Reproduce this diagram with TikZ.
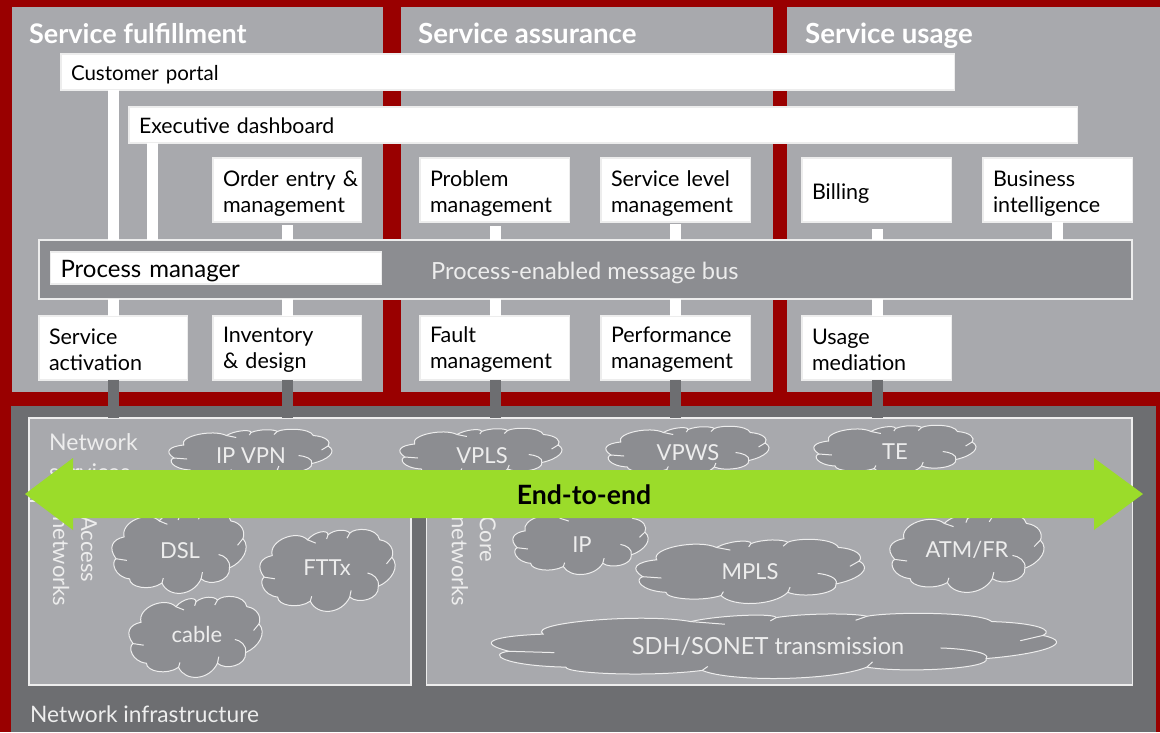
\documentclass[tikz,border=0pt]{standalone}
\usepackage{fontspec}
\setmainfont{Lato}
\definecolor{bgred}{HTML}{990000}
\definecolor{panelgray}{HTML}{A8A9AD}
\definecolor{darkgray}{HTML}{6D6E71}
\definecolor{busgray}{HTML}{8C8D91}
\definecolor{lime}{HTML}{9BDC2A}
\definecolor{softwhite}{HTML}{EDEDED}
\newcommand{\tx}{\rule{0pt}{23pt}}
\newcommand{\ty}{\rule{0pt}{19pt}}
\tikzset{
  panel/.style={fill=panelgray,draw=none},
  frame/.style={fill=panelgray,draw=softwhite,line width=1.6pt},
  wbox/.style={draw=softwhite,fill=white,line width=1.2pt,anchor=north west,align=left,inner xsep=10pt,inner ysep=0pt,outer sep=0pt,font=\fontsize{21.5}{26}\selectfont,text=black},
  wconn/.style={draw=white,line width=11pt},
  dconn/.style={draw=darkgray,line width=11pt},
  title/.style={text=white,anchor=base west,inner sep=0pt,font=\fontsize{27.7}{30}\selectfont\bfseries},
  lbl/.style={text=softwhite,anchor=west,inner sep=0pt,align=left,font=\fontsize{22}{28}\selectfont},
  cloudlbl/.style={text=softwhite,inner sep=0pt,font=\fontsize{22}{26}\selectfont},
  cloudline/.style={draw=softwhite,line width=1pt},
}
\newcommand{\cloudat}[7]{%
  \begin{scope}[shift={(#2,#3)},xscale=(#4-#2)/100,yscale=(#5-#3)/100]
    \path[fill=busgray,cloudline] (9,32)
      .. controls (6,14) and (27,0) .. (35,13)
      .. controls (40,3) and (50,0) .. (50,7)
      .. controls (55,0) and (64,0) .. (66,5)
      .. controls (70,-2) and (86,-2) .. (88,13)
      .. controls (96,15) and (99,26) .. (97,34)
      .. controls (103,45) and (97,62) .. (87,69)
      .. controls (88,85) and (72,91) .. (66,82)
      .. controls (60,103) and (42,105) .. (37,87)
      .. controls (28,97) and (13,92) .. (13,82)
      .. controls (2,80) and (-1,62) .. (3,58)
      .. controls (-3,45) and (0,35) .. (9,32) -- cycle;
    \path[cloudline] (87,69) .. controls (88,60) and (83,54) .. (79,53);
    \path[cloudline] (97,34) -- (93,42);
    \path[cloudline] (3,58) -- (11,60);
    \path[cloudline] (35,13) -- (41,17);
    \path[cloudline] (50,7) -- (49,12);
    \path[cloudline] (66,5) -- (64,11);
    \path[cloudline] (66,82) -- (67,74);
    \path[cloudline] (37,87) -- (38,81);
  \end{scope}
  \node[cloudlbl] (#1) at (#6) {#7};
}
\begin{document}
\begin{tikzpicture}[x=1pt,y=-1pt]
\useasboundingbox (0,0) rectangle (1160,732);
\fill[bgred] (0,0) rectangle (1160,732);
% panels
\path[panel] (12,7) rectangle (383,392);
\path[panel] (401,7) rectangle (773,392);
\path[panel] (787,7) rectangle (1160,392);
\fill[darkgray] (11,406) rectangle (1156,732);
\node[title,font=\fontsize{27}{30}\selectfont\bfseries] (t1) at (29,43) {Service fulfillment};
\node[title] (t2) at (418,43) {Service assurance};
\node[title] (t3) at (805,43) {Service usage};
% x positions of the connecting strips
\coordinate (xa) at (113.5,0);
\coordinate (xb) at (152.5,0);
\coordinate (xc) at (287.5,0);
\coordinate (xd) at (495.5,0);
\coordinate (xe) at (675.5,0);
\coordinate (xf) at (877.5,0);
\coordinate (xg) at (1057.5,0);
% boxes
\node[wbox,minimum height=36pt,text width=873.5pt,font=\fontsize{20.5}{26}\selectfont] (portal) at (61,54) {\rule{0pt}{21pt}Customer portal};
\node[wbox,minimum height=36pt,text width=928.5pt,font=\fontsize{21.3}{26}\selectfont] (exec) at (129,107) {\rule{0pt}{18pt}Executive dashboard};
\node[wbox,minimum height=64pt,text width=128.5pt] (order) at (213,158) {\tx\rlap{Order entry \&}\\management};
\node[wbox,minimum height=64pt,text width=129.5pt] (problem) at (420,158) {\tx Problem\\management};
\node[wbox,minimum height=64pt,text width=129.5pt] (sla) at (601,158) {\tx Service level\\management};
\node[wbox,minimum height=64pt,text width=129.5pt] (billing) at (802,158) {\tx Billing};
\node[wbox,minimum height=64pt,text width=129.5pt] (bi) at (983,158) {\tx Business\\intelligence};
\node[wbox,minimum height=64pt,text width=128.5pt] (activation) at (39,316) {\ty Service\\activation};
\node[wbox,minimum height=64pt,text width=128.5pt] (inventory) at (213,316) {\ty Inventory\\\& design};
\node[wbox,minimum height=64pt,text width=129.5pt] (fault) at (420,316) {\ty Fault\\management};
\node[wbox,minimum height=64pt,text width=129.5pt] (perf) at (601,316) {\ty Performance\\management};
\node[wbox,minimum height=64pt,text width=129.5pt] (mediation) at (802,316) {\ty Usage\\mediation};
% message bus
\node[draw=softwhite,fill=busgray,line width=1.2pt,anchor=north west,minimum width=1093pt,minimum height=59pt,inner sep=0pt,outer sep=0pt] (bus) at (39,240) {};
\node[wbox,minimum height=32pt,text width=311pt,font=\fontsize{24}{28}\selectfont] (pm) at (50.5,252) {\rule{0pt}{24pt}Process manager};
\node[text=softwhite,anchor=west,inner sep=0pt,font=\fontsize{23.6}{26}\selectfont] (busl) at (431,273) {Process-enabled message bus};
% network infrastructure
\node[frame,anchor=north west,minimum width=1103pt,minimum height=84pt,inner sep=0pt,outer sep=0pt] (services) at (29,418) {};
\node[frame,anchor=north west,minimum width=382pt,minimum height=184pt,inner sep=0pt,outer sep=0pt] (access) at (29,501) {};
\node[frame,anchor=north west,minimum width=706pt,minimum height=184pt,inner sep=0pt,outer sep=0pt] (core) at (426.5,501) {};
% connectors
\draw[wconn] (xa |- portal.south) -- (xa |- bus.north);
\draw[wconn] (xb |- exec.south) -- (xb |- bus.north);
\draw[wconn] ([yshift=-3pt]xc |- order.south) -- (xc |- bus.north);
\draw[wconn] ([yshift=-4pt]xd |- problem.south) -- (xd |- bus.north);
\draw[wconn] ([yshift=-2pt]xe |- sla.south) -- (xe |- bus.north);
\draw[wconn] ([yshift=-7pt]xf |- billing.south) -- (xf |- bus.north);
\draw[wconn] (xg |- bi.south) -- (xg |- bus.north);
\draw[wconn] (xa |- bus.south) -- (xa |- activation.north);
\draw[wconn] (xc |- bus.south) -- (xc |- inventory.north);
\draw[wconn] (xd |- bus.south) -- (xd |- fault.north);
\draw[wconn] (xe |- bus.south) -- (xe |- perf.north);
\draw[wconn] (xf |- bus.south) -- (xf |- mediation.north);
\draw[dconn] (xa |- activation.south) -- (xa |- services.north);
\draw[dconn] (xc |- inventory.south) -- (xc |- services.north);
\draw[dconn] (xd |- fault.south) -- (xd |- services.north);
\draw[dconn] (xe |- perf.south) -- (xe |- services.north);
\draw[dconn] (xf |- mediation.south) -- (xf |- services.north);
% labels
\node[lbl,anchor=north west,font=\fontsize{23}{30}\selectfont] (netserv) at (49,433) {Network\\services};
\node[lbl,rotate=-90,anchor=north west] (acc) at (97,516) {Access\\networks};
\node[lbl,rotate=-90,anchor=north west] (cor) at (496,516) {Core\\networks};
\node[lbl,font=\fontsize{22.7}{28}\selectfont] (infra) at (30,714) {Network infrastructure};
% clouds
\cloudat{ipvpn}{169}{429}{333}{479}{251,456}{IP VPN}
\cloudat{vpls}{400}{428}{563}{478}{482,456}{VPLS}
\cloudat{vpws}{606}{426}{770}{476}{688,453}{VPWS}
\cloudat{te}{814}{425}{977}{475}{895,452}{TE}
\cloudat{dsl}{112}{510}{247}{594}{180,551}{DSL}
\cloudat{fttx}{260}{529}{396}{612}{327,568}{FTTx}
\cloudat{cable}{129}{596}{263}{678}{197,634}{cable}
\cloudat{ip}{513}{510}{649}{575}{582,545}{IP}
\cloudat{mpls}{636}{539}{866}{604}{750,572}{MPLS}
\cloudat{atm}{890}{513}{1045}{593}{967,550}{ATM/FR}
\cloudat{sdh}{492}{613}{1060}{679}{768,646}{\fontsize{23.6}{26}\selectfont SDH/SONET transmission}
% end-to-end arrow
\fill[lime] (25,494) -- (73,458) -- (73,470) -- (1094,470) -- (1094,458) -- (1143,494) -- (1094,530) -- (1094,518) -- (73,518) -- (73,530) -- cycle;
\node[text=black,inner sep=0pt,font=\fontsize{26.6}{28}\selectfont\bfseries] (e2e) at (584,495) {End-to-end};
\end{tikzpicture}
\end{document}
